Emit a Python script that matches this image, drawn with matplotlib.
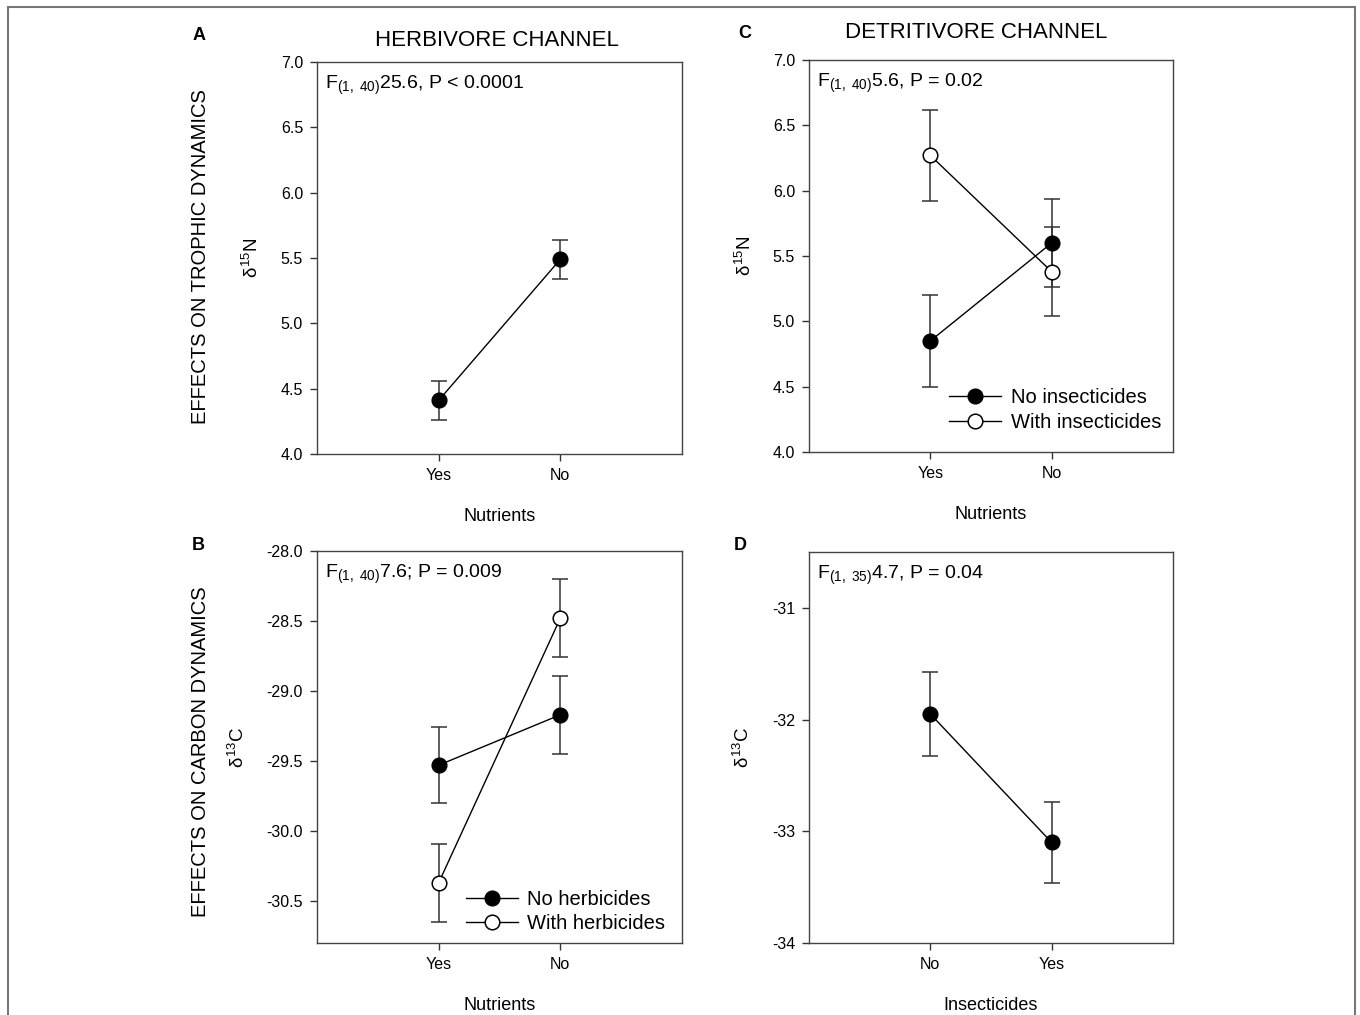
import matplotlib.pyplot as plt
from matplotlib.patches import Rectangle

plt.rcParams['font.family'] = ['Liberation Sans', 'DejaVu Sans']
plt.rcParams['mathtext.fontset'] = 'custom'
plt.rcParams['mathtext.rm'] = 'Liberation Sans'
plt.rcParams['mathtext.it'] = 'Liberation Sans'
plt.rcParams['axes.unicode_minus'] = False

# panel A: herbivore channel, d15N vs nutrients
a_labels = ["Yes", "No"]
a_mean = [4.41, 5.49]
a_err = [0.15, 0.15]

# panel C: detritivore channel, d15N vs nutrients
c_labels = ["Yes", "No"]
c_no_ins = [4.85, 5.60]
c_no_ins_err = [0.35, 0.34]
c_with_ins = [6.27, 5.38]
c_with_ins_err = [0.35, 0.34]

# panel B: herbivore channel, d13C vs nutrients
b_labels = ["Yes", "No"]
b_no_herb = [-29.53, -29.17]
b_no_herb_err = [0.27, 0.28]
b_with_herb = [-30.37, -28.48]
b_with_herb_err = [0.28, 0.28]

# panel D: detritivore channel, d13C vs insecticides
d_labels = ["No", "Yes"]
d_mean = [-31.95, -33.10]
d_err = [0.38, 0.36]

fig = plt.figure(figsize=(13.6, 10.15), dpi=100)
W, H = 1360, 1015


def ax_at(l, r, t, b):
    return fig.add_axes([l / W, 1 - b / H, (r - l) / W, (b - t) / H])


def style(ax, labels, ylim, yticks, ylabel, xlabel, ylab_x):
    ax.set_xlim(0, 3)
    ax.set_xticks([1, 2])
    ax.set_xticklabels(labels)
    ax.set_ylim(*ylim)
    ax.set_yticks(yticks)
    ax.tick_params(direction='out', length=5, width=1, labelsize=11.5,
                   color='#333333', pad=5)
    for s in ax.spines.values():
        s.set_color('#444444')
        s.set_linewidth(1.0)
    ax.set_ylabel(ylabel, fontsize=13.5)
    ax.yaxis.set_label_coords(ylab_x, 0.5)
    ax.yaxis.label.set_va('center')
    ax.set_xlabel(xlabel, fontsize=13)
    ax.xaxis.set_label_coords(0.5, -0.16)
    ax.xaxis.label.set_va('center')


def series(ax, x, y, err, filled, label=None):
    ax.errorbar(x, y, yerr=err, fmt='none', ecolor='#333333', elinewidth=1.1,
                capsize=6, capthick=1.1, zorder=2)
    ax.plot(x, y, '-o', color='black', lw=1.0, ms=10.5,
            mfc='black' if filled else 'white', mec='black', mew=1.1,
            zorder=3, label=label)


def legend(ax, x0, y0):
    ax.legend(loc='lower right', bbox_to_anchor=(x0, y0), frameon=False,
              fontsize=14.5, handlelength=2.6, handletextpad=0.45,
              labelspacing=0.28, borderaxespad=0.2)


x = [1, 2]

axA = ax_at(317, 682, 62, 454)
series(axA, x, a_mean, a_err, True)
style(axA, a_labels, (4.0, 7.0), [4.0, 4.5, 5.0, 5.5, 6.0, 6.5, 7.0],
      r'$\delta^{15}$N', 'Nutrients', -0.178)
axA.yaxis.set_major_formatter('{x:.1f}')
axA.text(0.022, 0.97, r'F$_{\mathrm{(1,\ 40)}}$25.6, P < 0.0001',
         transform=axA.transAxes, fontsize=14, va='top', ha='left')

axC = ax_at(809, 1173, 60, 452)
series(axC, x, c_no_ins, c_no_ins_err, True, 'No insecticides')
series(axC, x, c_with_ins, c_with_ins_err, False, 'With insecticides')
style(axC, c_labels, (4.0, 7.0), [4.0, 4.5, 5.0, 5.5, 6.0, 6.5, 7.0],
      r'$\delta^{15}$N', 'Nutrients', -0.176)
axC.yaxis.set_major_formatter('{x:.1f}')
axC.text(0.022, 0.97, r'F$_{\mathrm{(1,\ 40)}}$5.6, P = 0.02',
         transform=axC.transAxes, fontsize=14, va='top', ha='left')
legend(axC, 1.0, 0.02)

axB = ax_at(317, 682, 551, 943)
series(axB, x, b_no_herb, b_no_herb_err, True, 'No herbicides')
series(axB, x, b_with_herb, b_with_herb_err, False, 'With herbicides')
style(axB, b_labels, (-30.8, -28.0), [-30.5, -30.0, -29.5, -29.0, -28.5, -28.0],
      r'$\delta^{13}$C', 'Nutrients', -0.216)
axB.yaxis.set_major_formatter('{x:.1f}')
axB.text(0.022, 0.97, r'F$_{\mathrm{(1,\ 40)}}$7.6; P = 0.009',
         transform=axB.transAxes, fontsize=14, va='top', ha='left')
legend(axB, 0.987, -0.006)

axD = ax_at(809, 1173, 552, 943)
series(axD, x, d_mean, d_err, True)
style(axD, d_labels, (-34.0, -30.5), [-34, -33, -32, -31],
      r'$\delta^{13}$C', 'Insecticides', -0.181)
axD.text(0.022, 0.97, r'F$_{\mathrm{(1,\ 35)}}$4.7, P = 0.04',
         transform=axD.transAxes, fontsize=14, va='top', ha='left')

# panel letters, column titles, row labels
fig.text(199 / W, 1 - 35 / H, 'A', fontsize=13, fontweight='bold', ha='center', va='center')
fig.text(745 / W, 1 - 33 / H, 'C', fontsize=13, fontweight='bold', ha='center', va='center')
fig.text(198 / W, 1 - 546 / H, 'B', fontsize=13, fontweight='bold', ha='center', va='center')
fig.text(740 / W, 1 - 546 / H, 'D', fontsize=13, fontweight='bold', ha='center', va='center')
fig.text(497 / W, 1 - 40 / H, 'HERBIVORE CHANNEL', fontsize=16, ha='center', va='center')
fig.text(976 / W, 1 - 33 / H, 'DETRITIVORE CHANNEL', fontsize=16, ha='center', va='center')
fig.text(200 / W, 1 - 257 / H, 'EFFECTS ON TROPHIC DYNAMICS', fontsize=14.5,
         rotation=90, ha='center', va='center')
fig.text(200 / W, 1 - 752 / H, 'EFFECTS ON CARBON DYNAMICS', fontsize=14.5,
         rotation=90, ha='center', va='center')

fig.add_artist(Rectangle((8 / W, -0.02), (1355 - 8) / W, 1.02 - 7 / H,
                         transform=fig.transFigure, fill=False,
                         edgecolor='#777777', lw=1.5))

fig.savefig('out.png', dpi=100)
